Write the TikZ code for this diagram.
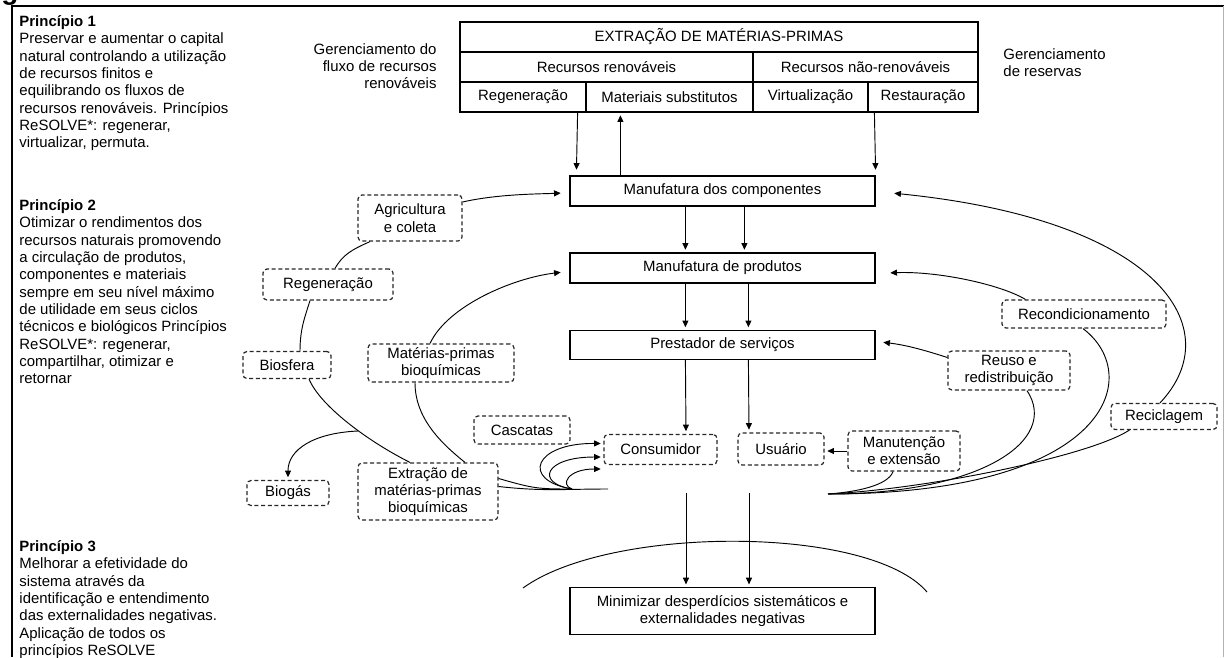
\documentclass[tikz,border=0pt]{standalone}
\usepackage{fontspec}
\setmainfont{Liberation Sans}
\usetikzlibrary{arrows.meta,calc}
\begin{document}
\begin{tikzpicture}[x=0.75pt,y=-0.75pt,
  font=\fontsize{11.2}{13}\selectfont,
  >={Triangle[length=5pt,width=4.5pt]},
  line width=0.7pt,
  cell/.style={draw,line width=0.9pt,minimum height=22.5pt,inner sep=0pt},
  box/.style={draw,line width=0.9pt,minimum width=228.75pt,minimum height=22.5pt,align=center,inner sep=0pt},
  soft/.style={draw=black!85,line width=0.9pt,dash pattern=on 3pt off 2pt,rounded corners=3pt,align=center,inner sep=1pt},
  para/.style={anchor=north west,align=left,inner sep=0pt},
  arr/.style={->,shorten >=2pt}]
\useasboundingbox (0,0) rectangle (1227,657);
\begin{scope}
\clip (0,0) rectangle (60,5.5);
\node[anchor=base west,inner sep=0pt,font=\bfseries\fontsize{21}{21}\selectfont] (fig) at (1,-1) {g};
\end{scope}
\draw[line width=1.5pt] (12,657) -- (12,6) -- (1224,6);
\draw[black!30] (1223,6) -- (1223,657);
\node[para] (p1) at (19,15) {\textbf{Princípio 1}\\Preservar e aumentar o capital\\natural controlando a utilização\\de recursos finitos e\\equilibrando os fluxos de\\recursos renováveis. Princípios\\ReSOLVE*: regenerar,\\virtualizar, permuta.};
\node[para] (p2) at (19,199) {\textbf{Princípio 2}\\Otimizar o rendimentos dos\\recursos naturais promovendo\\a circulação de produtos,\\componentes e materiais\\sempre em seu nível máximo\\de utilidade em seus ciclos\\técnicos e biológicos Princípios\\ReSOLVE*: regenerar,\\compartilhar, otimizar e\\retornar};
\node[para] (p3) at (19,540) {\textbf{Princípio 3}\\Melhorar a efetividade do\\sistema através da\\identificação e entendimento\\das externalidades negativas.\\Aplicação de todos os\\princípios ReSOLVE};
\node[anchor=north east,align=right,inner sep=0pt] (gfluxo) at (437,43) {Gerenciamento do\\fluxo de recursos\\renováveis};
\node[anchor=north west,align=left,inner sep=0pt] (greserv) at (1003,48) {Gerenciamento\\de reservas};
\node[cell,minimum width=388.5pt] (extr) at (719,37) {EXTRAÇÃO DE MATÉRIAS-PRIMAS};
\node[cell,minimum width=219.75pt] (renov) at (606.5,67) {Recursos renováveis};
\node[cell,minimum width=168.75pt] (nrenov) at (865.5,67) {Recursos não-renováveis};
\node[cell,minimum width=94.5pt] (tregen) at (523,97) {Regeneração};
\node[cell,minimum width=125.25pt] (subst) at (669.5,97) {Materiais substitutos};
\node[cell,minimum width=86.25pt] (virt) at (810.5,97) {Virtualização};
\node[cell,minimum width=82.5pt] (rest) at (923,97) {Restauração};
\node[box] (comps) at (722.5,191) {Manufatura dos componentes};
\node[box] (prod) at (722.5,268) {Manufatura de produtos};
\node[box,minimum height=21.75pt] (prest) at (722.5,345) {Prestador de serviços};
\node[box,minimum height=35pt] (minim) at (722.5,611) {Minimizar desperdícios sistemáticos e\\externalidades negativas};
\node[soft,minimum width=84.75pt,minimum height=22.5pt] (consum) at (660.5,449.5) {Consumidor};
\node[soft,minimum width=64.5pt,minimum height=24pt] (usuario) at (781,449) {Usuário};
\node[soft,minimum width=84pt,minimum height=30pt] (manut) at (904,451) {Manutenção\\e extensão};
\node[soft,minimum width=79.5pt,minimum height=19.5pt] (recicl) at (1164,416.5) {Reciclagem};
\node[soft,minimum width=123pt,minimum height=21pt] (recond) at (1084,314) {Recondicionamento};
\node[soft,minimum width=91.5pt,minimum height=29.25pt] (reuso) at (1009,370.5) {Reuso e\\redistribuição};
\node[soft,minimum width=72pt,minimum height=21pt] (casc) at (522,430) {Cascatas};
\node[soft,minimum width=78pt,minimum height=34.5pt] (agri) at (410,218) {Agricultura\\e coleta};
\node[soft,minimum width=97.5pt,minimum height=23.25pt] (regen) at (328,284.5) {Regeneração};
\node[soft,minimum width=66pt,minimum height=20.25pt] (biosf) at (287,365) {Biosfera};
\node[soft,minimum width=109.5pt,minimum height=28.5pt] (mprimas) at (441,363) {Matérias-primas\\bioquímicas};
\node[soft,minimum width=105pt,minimum height=42.75pt] (extracao) at (428,491.5) {Extração de\\matérias-primas\\bioquímicas};
\node[soft,minimum width=61.5pt,minimum height=18.75pt] (biogas) at (288,493) {Biogás};
\coordinate (biobranch) at (358,431);
\coordinate (cascfoot) at (572,489);
\coordinate (leftend) at (608,489);
\coordinate (rightend) at (828,494);
\coordinate (wasteA) at (686,493);
\coordinate (wasteB) at (749,493);
\coordinate (arcL) at (523,588);
\coordinate (arcR) at (927,592);
\draw[arr] ($(tregen.south east)+(-9,0)$) -- ($(comps.north west)+(7,-3)$);
\draw[arr] ($(comps.north west)+(51,0)$) -- ($(subst.south west)+(35,0)$);
\draw[arr] ($(rest.south west)+(7,0)$) -- ($(comps.north east)+(0,-3)$);
\foreach \dx in {116,175}
  \draw[arr] ($(comps.south west)+(\dx,0)$) -- ($(prod.north west)+(\dx,0)$);
\foreach \dx in {116,179}
  \draw[arr] ($(prod.south west)+(\dx,0)$) -- ($(prest.north west)+(\dx,0)$);
\draw[arr] ($(prest.south west)+(116,0)$) -- ($(consum.north)+(25.5,0)$);
\draw[arr] ($(prest.south west)+(179,0)$) -- ($(usuario.north)+(-32,0)$);
\draw[arr] (manut.west) -- (manut.west -| usuario.east);
\draw[arr] (wasteA) -- (wasteA |- minim.north);
\draw[arr] (wasteB) -- (wasteB |- minim.north);
\draw (arcL) .. controls (610,525) and (870,525) .. (arcR);
\draw ($(biosf.south)+(22,0)$) .. controls +(12,28) and +(-40,-20) .. ($(extracao.north)+(-18,0)$);
\draw[arr] (biobranch) .. controls +(-45,2) and +(0,-30) .. (biogas.north);
\draw ($(biosf.north)+(13,0)$) .. controls +(0,-22) and +(-5,16) .. ($(regen.south)+(-18,0)$);
\draw ($(regen.north)+(7,0)$) .. controls +(8,-14) and +(-18,8) .. ($(agri.south)+(-40,0)$);
\draw[arr] ($(agri.east)+(0,-16)$) .. controls +(35,-8) and +(-25,1) .. ($(comps.west)+(-6,2)$);
\draw[arr] ($(mprimas.north)+(-11,0)$) .. controls +(18,-38) and +(-50,6) .. ($(prod.west)+(-6,4)$);
\draw ($(mprimas.south)+(-26,0)$) .. controls +(0,35) and +(-25,-20) .. ($(extracao.north)+(37,0)$);
\draw ($(extracao.east)+(0,-13)$) .. controls +(35,10) and +(-35,0) .. (cascfoot);
\draw ($(extracao.east)+(0,-5)$) .. controls +(45,5) and +(-45,0) .. (leftend);
\draw[arr] (cascfoot) .. controls +(-52,-9) and +(-69,-0.5) .. ($(consum.west)+(0,-6)$);
\draw[arr] (cascfoot) .. controls +(-37,-6) and +(-59,0) .. ($(consum.west)+(0,7.5)$);
\draw[arr] (cascfoot) .. controls +(-12,-4) and +(-36,0) .. ($(consum.west)+(0,19.5)$);
\draw ($(manut.south)+(-11,0)$) .. controls +(-5,14) and +(28,-2) .. (rightend);
\draw ($(reuso.south)+(18,0)$) .. controls +(33,50) and +(152,0) .. (rightend);
\draw ($(recond.south)+(-1,0)$) .. controls +(62,47) and +(282,0) .. (rightend);
\draw ($(recicl.south west)+(19,0)$) .. controls +(-40,26) and +(100,-5) .. (rightend);
\draw[arr] ($(recicl.north)+(-4,0)$) .. controls +(70,-74) and +(269,27) .. ($(comps.east)+(16,2)$);
\draw[arr] ($(recond.north west)+(24,0)$) .. controls +(-25,-15) and +(50,-2) .. ($(prod.east)+(12,5)$);
\draw[arr] ($(reuso.west)+(0,-13)$) .. controls +(-25,-8) and +(25,3) .. ($(prest.east)+(5,-3)$);
\end{tikzpicture}
\end{document}
